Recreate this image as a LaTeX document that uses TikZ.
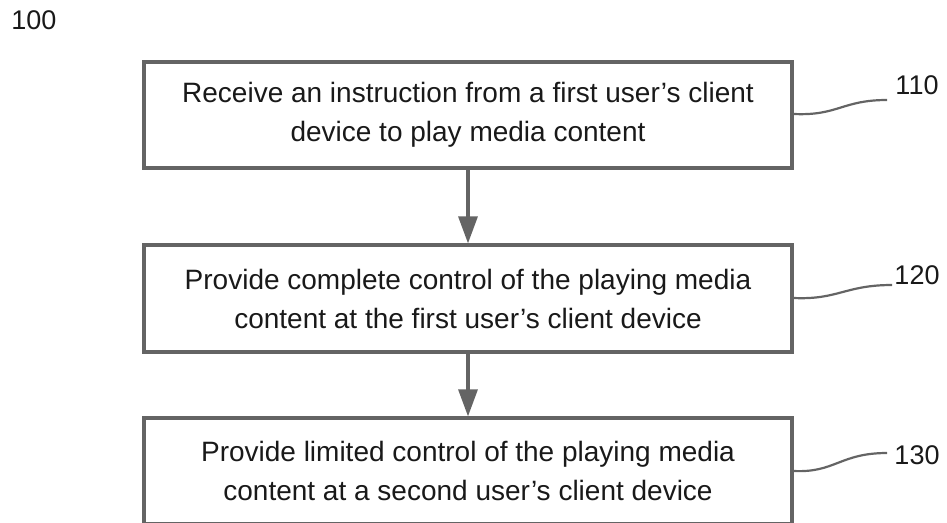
\documentclass[tikz,border=0pt]{standalone}
\usepackage{fontspec}
\setmainfont{Liberation Sans}
\usetikzlibrary{arrows.meta}
\definecolor{edge}{RGB}{100,100,100}
\definecolor{ink}{RGB}{25,25,25}
\begin{document}
\begin{tikzpicture}[x=1pt,y=-1pt,
  stepbox/.style={draw=edge, line width=3.2pt, minimum width=648pt, inner sep=0pt,
    align=center, text=ink, font=\fontsize{28}{39}\selectfont},
  flow/.style={draw=edge, line width=3.2pt, -{Triangle[length=27pt,width=19pt]}},
  lead/.style={draw=edge, line width=2.2pt},
  ref/.style={text=ink, font=\fontsize{27}{30}\selectfont, inner sep=0pt}]
\useasboundingbox (0,0) rectangle (947,522);
\node[stepbox, minimum height=106pt] (s1) at (468,115) {Receive an instruction from a first user’s client\\device to play media content};
\node[stepbox, minimum height=107pt] (s2) at (468,298.5) {Provide complete control of the playing media\\content at the first user’s client device};
\node[stepbox, minimum height=106pt] (s3) at (468,471) {Provide limited control of the playing media\\content at a second user’s client device};
\draw[flow] (s1) -- (s2);
\draw[flow] (s2) -- (s3);
\node[ref] (r100) at (34,20) {100};
\node[ref] (r110) at (917,85) {110};
\node[ref] (r120) at (917,275) {120};
\node[ref] (r130) at (917,455) {130};
\coordinate (e110) at (887,100);
\coordinate (e120) at (892,285);
\coordinate (e130) at (887,453);
\draw[lead] (s1.east |- 0,114) .. controls (838,116) and (842,100) .. (e110);
\draw[lead] (s2.east |- 0,298) .. controls (838,300) and (845,285) .. (e120);
\draw[lead] (s3.east |- 0,471) .. controls (835,473) and (840,453) .. (e130);
\end{tikzpicture}
\end{document}
